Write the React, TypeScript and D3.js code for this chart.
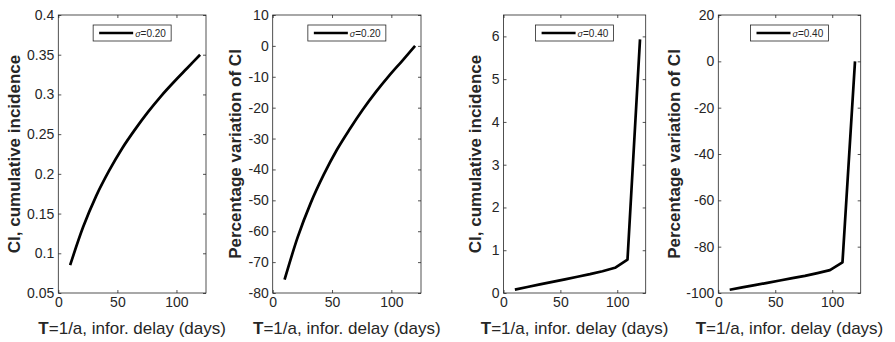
import * as React from 'react';
import * as d3 from 'd3';

// delay T (days) sampled every 11 days
const delays = [10, 21, 32, 43, 54, 65, 76, 87, 98, 109, 120];

const ciSigma20 = [0.085, 0.133, 0.172, 0.204, 0.232, 0.256, 0.278, 0.298, 0.316, 0.333, 0.35];
const pctSigma20 = [-75.7, -62.0, -50.9, -41.7, -33.7, -26.9, -20.6, -14.9, -9.7, -4.9, 0];
const ciSigma40 = [0.08, 0.14, 0.2, 0.26, 0.32, 0.38, 0.44, 0.51, 0.59, 0.78, 5.93];
const pctSigma40 = [-98.6, -97.6, -96.6, -95.6, -94.6, -93.6, -92.6, -91.4, -90.1, -86.8, 0];

const xTicks = [0, 50, 100];
const ciTicks20 = [0.05, 0.1, 0.15, 0.2, 0.25, 0.3, 0.35, 0.4];
const pctTicks20 = [-80, -70, -60, -50, -40, -30, -20, -10, 0, 10];
const ciTicks40 = [0, 1, 2, 3, 4, 5, 6];
const pctTicks40 = [-100, -80, -60, -40, -20, 0, 20];

const ciLabel = 'CI, cumulative incidence';
const pctLabel = 'Percentage variation of CI';

type PanelSpec = {
    values: number[],
    yDomain: [number, number],
    yTicks: number[],
    yLabel: string,
    sigma: string,
    smooth: boolean,
    left: number,
    right: number,
    labelX: number,
};

const panels: PanelSpec[] = [
    { values: ciSigma20, yDomain: [0.05, 0.4], yTicks: ciTicks20, yLabel: ciLabel, sigma: '0.20', smooth: true, left: 58.3, right: 206, labelX: 20 },
    { values: pctSigma20, yDomain: [-80, 10], yTicks: pctTicks20, yLabel: pctLabel, sigma: '0.20', smooth: true, left: 272.7, right: 421, labelX: 241 },
    { values: ciSigma40, yDomain: [0, 6.5], yTicks: ciTicks40, yLabel: ciLabel, sigma: '0.40', smooth: false, left: 503.5, right: 645.7, labelX: 481 },
    { values: pctSigma40, yDomain: [-100, 20], yTicks: pctTicks40, yLabel: pctLabel, sigma: '0.40', smooth: false, left: 718.3, right: 860.7, labelX: 680 },
];

const top = 15;
const bottom = 293;
const font = '"Liberation Sans", Arial, sans-serif';
const axisColor = '#262626';

function Panel({ spec }: { spec: PanelSpec }) {
    const ref = React.useRef<SVGGElement>(null);

    React.useEffect(() => {
        const g = d3.select(ref.current);
        g.selectAll('*').remove();

        const x = d3.scaleLinear().domain([0, 125]).range([spec.left, spec.right]);
        const y = d3.scaleLinear().domain(spec.yDomain).range([bottom, top]);
        const fmt = (d: d3.NumberValue) => String(d);

        const styleAxis = (sel: d3.Selection<SVGGElement, unknown, null, undefined>) => {
            sel.select('.domain').remove();
            sel.selectAll('.tick line').attr('stroke', axisColor).attr('stroke-width', 0.8);
            sel.selectAll('.tick text')
                .attr('fill', axisColor)
                .style('font-family', font)
                .style('font-size', '14px');
        };

        g.append('g')
            .attr('transform', `translate(0,${bottom})`)
            .call(d3.axisBottom(x).tickValues(xTicks).tickFormat(fmt).tickSizeInner(-3).tickSizeOuter(0).tickPadding(4))
            .call(styleAxis);
        g.append('g')
            .attr('transform', `translate(0,${top})`)
            .call(d3.axisTop(x).tickValues(xTicks).tickFormat(() => '').tickSizeInner(-3).tickSizeOuter(0))
            .call(styleAxis);
        g.append('g')
            .attr('transform', `translate(${spec.left},0)`)
            .call(d3.axisLeft(y).tickValues(spec.yTicks).tickFormat(fmt).tickSizeInner(-3).tickSizeOuter(0).tickPadding(4))
            .call(styleAxis);
        g.append('g')
            .attr('transform', `translate(${spec.right},0)`)
            .call(d3.axisRight(y).tickValues(spec.yTicks).tickFormat(() => '').tickSizeInner(-3).tickSizeOuter(0))
            .call(styleAxis);

        g.append('rect')
            .attr('x', spec.left)
            .attr('y', top)
            .attr('width', spec.right - spec.left)
            .attr('height', bottom - top)
            .attr('fill', 'none')
            .attr('stroke', axisColor)
            .attr('stroke-width', 0.8);

        const line = d3.line<number>()
            .x((_, i) => x(delays[i]))
            .y(d => y(d))
            .curve(spec.smooth ? d3.curveMonotoneX : d3.curveLinear);
        g.append('path')
            .datum(spec.values)
            .attr('d', line)
            .attr('fill', 'none')
            .attr('stroke', '#000')
            .attr('stroke-width', 2.7)
            .attr('stroke-linejoin', 'round');

        // legend
        const cx = (spec.left + spec.right) / 2;
        const lw = 78, lh = 16;
        const lx = cx - lw / 2, ly = top + 10;
        const leg = g.append('g');
        leg.append('rect')
            .attr('x', lx).attr('y', ly).attr('width', lw).attr('height', lh)
            .attr('fill', '#fff').attr('stroke', axisColor).attr('stroke-width', 0.8);
        leg.append('line')
            .attr('x1', lx + 6).attr('x2', lx + 40)
            .attr('y1', ly + lh / 2).attr('y2', ly + lh / 2)
            .attr('stroke', '#000').attr('stroke-width', 2.7);
        const t = leg.append('text')
            .attr('x', lx + 42).attr('y', ly + lh / 2 + 3.5)
            .style('font-family', font).style('font-size', '10px')
            .attr('fill', axisColor);
        t.append('tspan').attr('font-style', 'italic').style('font-size', '9px').text('σ');
        t.append('tspan').text('=' + spec.sigma);

        // axis labels
        g.append('text')
            .attr('transform', `translate(${spec.labelX},${(top + bottom) / 2}) rotate(-90)`)
            .attr('text-anchor', 'middle')
            .style('font-family', font).style('font-size', '17px').style('font-weight', 'bold')
            .attr('fill', axisColor)
            .text(spec.yLabel);
        const xl = g.append('text')
            .attr('x', cx).attr('y', 334)
            .attr('text-anchor', 'middle')
            .style('font-family', font).style('font-size', '17px')
            .attr('fill', axisColor);
        xl.append('tspan').style('font-weight', 'bold').text('T');
        xl.append('tspan').text('=1/a, infor. delay (days)');
    }, [spec]);

    return <g ref={ref} />;
}

export default function App() {
    return (
        <svg width={895} height={342} style={{ position: 'absolute', left: 0, top: 0, background: '#fff' }}>
            {panels.map((p, i) => <Panel key={i} spec={p} />)}
        </svg>
    );
}
